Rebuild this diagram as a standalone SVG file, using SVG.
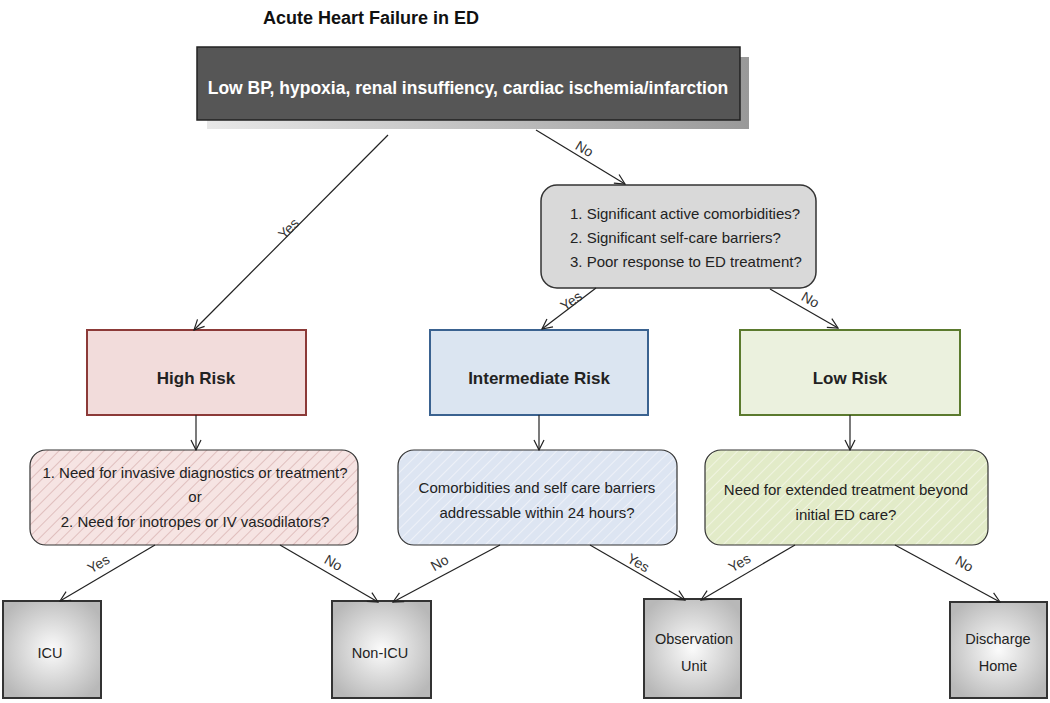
<svg xmlns="http://www.w3.org/2000/svg" width="1050" height="703" viewBox="0 0 1050 703">
<defs>
<style>
text{font-family:"Liberation Sans",Arial,sans-serif;fill:#222}
.t{font-weight:bold;font-size:17px;text-anchor:middle}
.q{font-size:15px}
.c{text-anchor:middle}
.e{font-size:14.5px;text-anchor:middle}
.lbl{font-size:14px;fill:#333;text-anchor:middle}
.conn line{stroke:#222;stroke-width:1.2;marker-end:url(#ah)}
.end{stroke:#333;stroke-width:2;fill:url(#rg)}
</style>
<marker id="ah" viewBox="0 0 12 12" refX="11" refY="6" markerWidth="12" markerHeight="12" markerUnits="userSpaceOnUse" orient="auto">
<path d="M1,1 L11,6 L1,11" fill="none" stroke="#222" stroke-width="1.2"/>
</marker>
<radialGradient id="rg" cx="50%" cy="50%" r="60%">
<stop offset="0" stop-color="#fbfbfb"/>
<stop offset="1" stop-color="#b8b8b8"/>
</radialGradient>
<linearGradient id="sh" x1="0" y1="0" x2="1" y2="0">
<stop offset="0" stop-color="#e8e8e8"/>
<stop offset="1" stop-color="#999"/>
</linearGradient>
<pattern id="hr" width="8" height="8" patternUnits="userSpaceOnUse" patternTransform="rotate(45)">
<rect width="8" height="8" fill="#f6e4e3"/>
<line x1="0" y1="0" x2="0" y2="8" stroke="#d9b3b2" stroke-width="1.5"/>
</pattern>
<pattern id="hb" width="8" height="8" patternUnits="userSpaceOnUse" patternTransform="rotate(45)">
<rect width="8" height="8" fill="#dde5f2"/>
<line x1="0" y1="0" x2="0" y2="8" stroke="#f4f6fa" stroke-width="1.5"/>
</pattern>
<pattern id="hg" width="8" height="8" patternUnits="userSpaceOnUse" patternTransform="rotate(45)">
<rect width="8" height="8" fill="#e2ebc8"/>
<line x1="0" y1="0" x2="0" y2="8" stroke="#f5f8ea" stroke-width="1.5"/>
</pattern>
</defs>
<rect width="1050" height="703" fill="#fff"/>
<text x="371" y="24" class="t" style="font-size:18px;fill:#111">Acute Heart Failure in ED</text>

<g id="top">
<rect x="207" y="57" width="542" height="72" fill="url(#sh)"/>
<rect x="197" y="47" width="543" height="73" fill="#565656" stroke="#222" stroke-width="1.5"/>
<text x="468" y="94" class="t" style="fill:#fff;font-size:17.5px">Low BP, hypoxia, renal insuffiency, cardiac ischemia/infarction</text>
</g>

<g id="q1">
<rect x="541" y="185" width="275" height="103" rx="16" fill="#d9d9d9" stroke="#333" stroke-width="1.5"/>
<text x="570" y="219" class="q">1. Significant active comorbidities?</text>
<text x="570" y="243" class="q">2. Significant self-care barriers?</text>
<text x="570" y="267" class="q">3. Poor response to ED treatment?</text>
</g>

<g id="high">
<rect x="87" y="330" width="219" height="85" fill="#f2dcdb" stroke="#8c3a38" stroke-width="2"/>
<text x="196" y="384" class="t">High Risk</text>
</g>
<g id="inter">
<rect x="430" y="330" width="218" height="85" fill="#dbe5f1" stroke="#3a6290" stroke-width="2"/>
<text x="539" y="384" class="t">Intermediate Risk</text>
</g>
<g id="low">
<rect x="740" y="330" width="220" height="85" fill="#ebf1de" stroke="#5b7a2e" stroke-width="2"/>
<text x="850" y="384" class="t">Low Risk</text>
</g>

<g id="qhigh">
<rect x="30" y="450" width="328" height="95" rx="16" fill="url(#hr)" stroke="#333" stroke-width="1.2"/>
<text x="195" y="478" class="q c">1. Need for invasive diagnostics or treatment?</text>
<text x="195" y="502" class="q c">or</text>
<text x="195" y="527" class="q c">2. Need for inotropes or IV vasodilators?</text>
</g>
<g id="qinter">
<rect x="398" y="450" width="279" height="95" rx="16" fill="url(#hb)" stroke="#333" stroke-width="1.2"/>
<text x="537" y="493" class="q c">Comorbidities and self care barriers</text>
<text x="537" y="518" class="q c">addressable within 24 hours?</text>
</g>
<g id="qlow">
<rect x="705" y="450" width="283" height="95" rx="16" fill="url(#hg)" stroke="#333" stroke-width="1.2"/>
<text x="846" y="495" class="q c">Need for extended treatment beyond</text>
<text x="846" y="520" class="q c">initial ED care?</text>
</g>

<g id="icu">
<rect x="3" y="601" width="98" height="97" class="end"/>
<text x="50" y="658" class="e">ICU</text>
</g>
<g id="nonicu">
<rect x="332" y="601" width="99" height="97" class="end"/>
<text x="380" y="658" class="e">Non-ICU</text>
</g>
<g id="obs">
<rect x="644" y="599" width="97" height="99" class="end"/>
<text x="694" y="644" class="e">Observation</text>
<text x="694" y="671" class="e">Unit</text>
</g>
<g id="home">
<rect x="950" y="602" width="97" height="96" class="end"/>
<text x="998" y="644" class="e">Discharge</text>
<text x="998" y="671" class="e">Home</text>
</g>

<g class="conn" id="connectors">
<line x1="388" y1="135" x2="194" y2="330"/>
<line x1="536" y1="130" x2="625" y2="184"/>
<line x1="596" y1="288" x2="542" y2="329"/>
<line x1="770" y1="289" x2="838" y2="328"/>
<line x1="196" y1="415" x2="196" y2="450"/>
<line x1="539" y1="415" x2="539" y2="450"/>
<line x1="850" y1="415" x2="850" y2="450"/>
<line x1="155" y1="545" x2="60" y2="601"/>
<line x1="280" y1="545" x2="378" y2="602"/>
<line x1="500" y1="545" x2="393" y2="602"/>
<line x1="590" y1="545" x2="685" y2="600"/>
<line x1="795" y1="545" x2="701" y2="600"/>
<line x1="895" y1="545" x2="1000" y2="602"/>
</g>
<g id="labels">
<text class="lbl" transform="translate(292,232) rotate(-45)">Yes</text>
<text class="lbl" transform="translate(582,153) rotate(31)">No</text>
<text class="lbl" transform="translate(574,305) rotate(-35)">Yes</text>
<text class="lbl" transform="translate(808,304) rotate(30)">No</text>
<text class="lbl" transform="translate(101,568) rotate(-30)">Yes</text>
<text class="lbl" transform="translate(331,567) rotate(30)">No</text>
<text class="lbl" transform="translate(442,567) rotate(-30)">No</text>
<text class="lbl" transform="translate(636,567) rotate(30)">Yes</text>
<text class="lbl" transform="translate(742,567) rotate(-30)">Yes</text>
<text class="lbl" transform="translate(962,568) rotate(30)">No</text>
</g>
</svg>
